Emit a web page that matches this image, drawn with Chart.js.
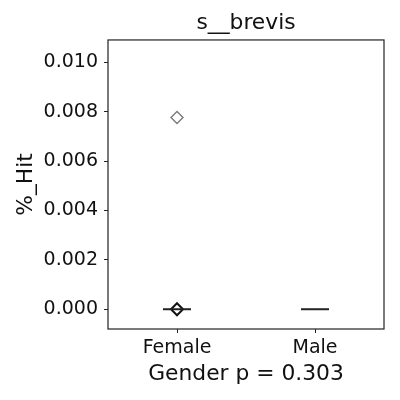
<!DOCTYPE html>
<html lang="en">
<head>
    <meta charset="UTF-8">
    <title>s__brevis</title>
    <style>
        body {
            margin: 0;
            padding: 0;
            background-color: #fff;
        }

        #wrap {
            width: 400px;
            height: 400px;
        }
    </style>
</head>
<body>
    <div id="wrap">
        <canvas id="box-chart" width="400" height="400"></canvas>
    </div>

    <script src="https://cdn.jsdelivr.net/npm/chart.js"></script>
    <script>
        const categories = ['Female', 'Male'];
        const medianValues = [0, 0];
        const flierCategories = ['Female'];
        const flierValues = [0.00776];
        const markerCategories = ['Female'];
        const markerValues = [0];
        const yTicks = [0, 0.002, 0.004, 0.006, 0.008, 0.010];

        const fontFamily = '"DejaVu Sans", sans-serif';

        function pairUp(cats, vals) {
            return cats.map((c, i) => ({ x: c, y: vals[i] }));
        }

        // box frame round the plot area, like matplotlib spines
        const framePlugin = {
            id: 'frame',
            afterDatasetsDraw(chart) {
                const a = chart.chartArea;
                const ctx = chart.ctx;
                ctx.save();
                ctx.strokeStyle = '#222';
                ctx.lineWidth = 1.2;
                ctx.strokeRect(a.left, a.top, a.right - a.left, a.bottom - a.top);
                ctx.restore();
            }
        };

        new Chart(document.getElementById('box-chart'), {
            type: 'line',
            data: {
                labels: categories,
                datasets: [
                    {
                        label: 'median',
                        data: pairUp(categories, medianValues),
                        showLine: false,
                        pointStyle: 'line',
                        pointRadius: 14,
                        pointBorderWidth: 2,
                        pointBorderColor: '#222',
                    },
                    {
                        label: 'fliers',
                        data: pairUp(flierCategories, flierValues),
                        showLine: false,
                        pointStyle: 'rectRot',
                        pointRadius: 6,
                        pointBorderWidth: 1.4,
                        pointBorderColor: '#7a7a7a',
                        pointBackgroundColor: 'rgba(0,0,0,0)',
                    },
                    {
                        label: 'points',
                        data: pairUp(markerCategories, markerValues),
                        showLine: false,
                        pointStyle: 'rectRot',
                        pointRadius: 6,
                        pointBorderWidth: 2,
                        pointBorderColor: '#111',
                        pointBackgroundColor: 'rgba(0,0,0,0)',
                    },
                ],
            },
            options: {
                responsive: false,
                animation: false,
                layout: {
                    padding: { left: 13, right: 15, top: 0, bottom: 13 },
                },
                plugins: {
                    legend: { display: false },
                    tooltip: { enabled: false },
                    title: {
                        display: true,
                        text: 's__brevis',
                        fullSize: false,
                        color: '#111',
                        font: { family: fontFamily, size: 21.8, weight: 'normal' },
                        padding: { top: 10, bottom: 3.8 },
                    },
                },
                scales: {
                    x: {
                        type: 'category',
                        offset: true,
                        grid: {
                            display: true,
                            drawOnChartArea: false,
                            drawTicks: true,
                            tickLength: 4,
                            color: '#222',
                        },
                        border: { display: false },
                        ticks: {
                            color: '#111',
                            padding: 4,
                            font: { family: fontFamily, size: 19 },
                        },
                        title: {
                            display: true,
                            text: 'Gender p = 0.303',
                            color: '#111',
                            padding: { top: 0, bottom: 0 },
                            font: { family: fontFamily, size: 21.8 },
                        },
                        afterFit(scale) {
                            scale.height = 58;
                        },
                    },
                    y: {
                        type: 'linear',
                        min: -0.0008,
                        max: 0.0109,
                        grid: {
                            display: true,
                            drawOnChartArea: false,
                            drawTicks: true,
                            tickLength: 4,
                            color: '#222',
                        },
                        border: { display: false },
                        afterBuildTicks(scale) {
                            scale.ticks = yTicks.map(v => ({ value: v }));
                        },
                        ticks: {
                            color: '#111',
                            padding: 6,
                            font: { family: fontFamily, size: 19 },
                            callback: v => v.toFixed(3),
                        },
                        title: {
                            display: true,
                            text: '%_Hit',
                            color: '#111',
                            padding: { top: 0, bottom: 0 },
                            font: { family: fontFamily, size: 21.8 },
                        },
                        afterFit(scale) {
                            scale.width = 95;
                        },
                    },
                },
            },
            plugins: [framePlugin],
        });
    </script>
</body>
</html>
